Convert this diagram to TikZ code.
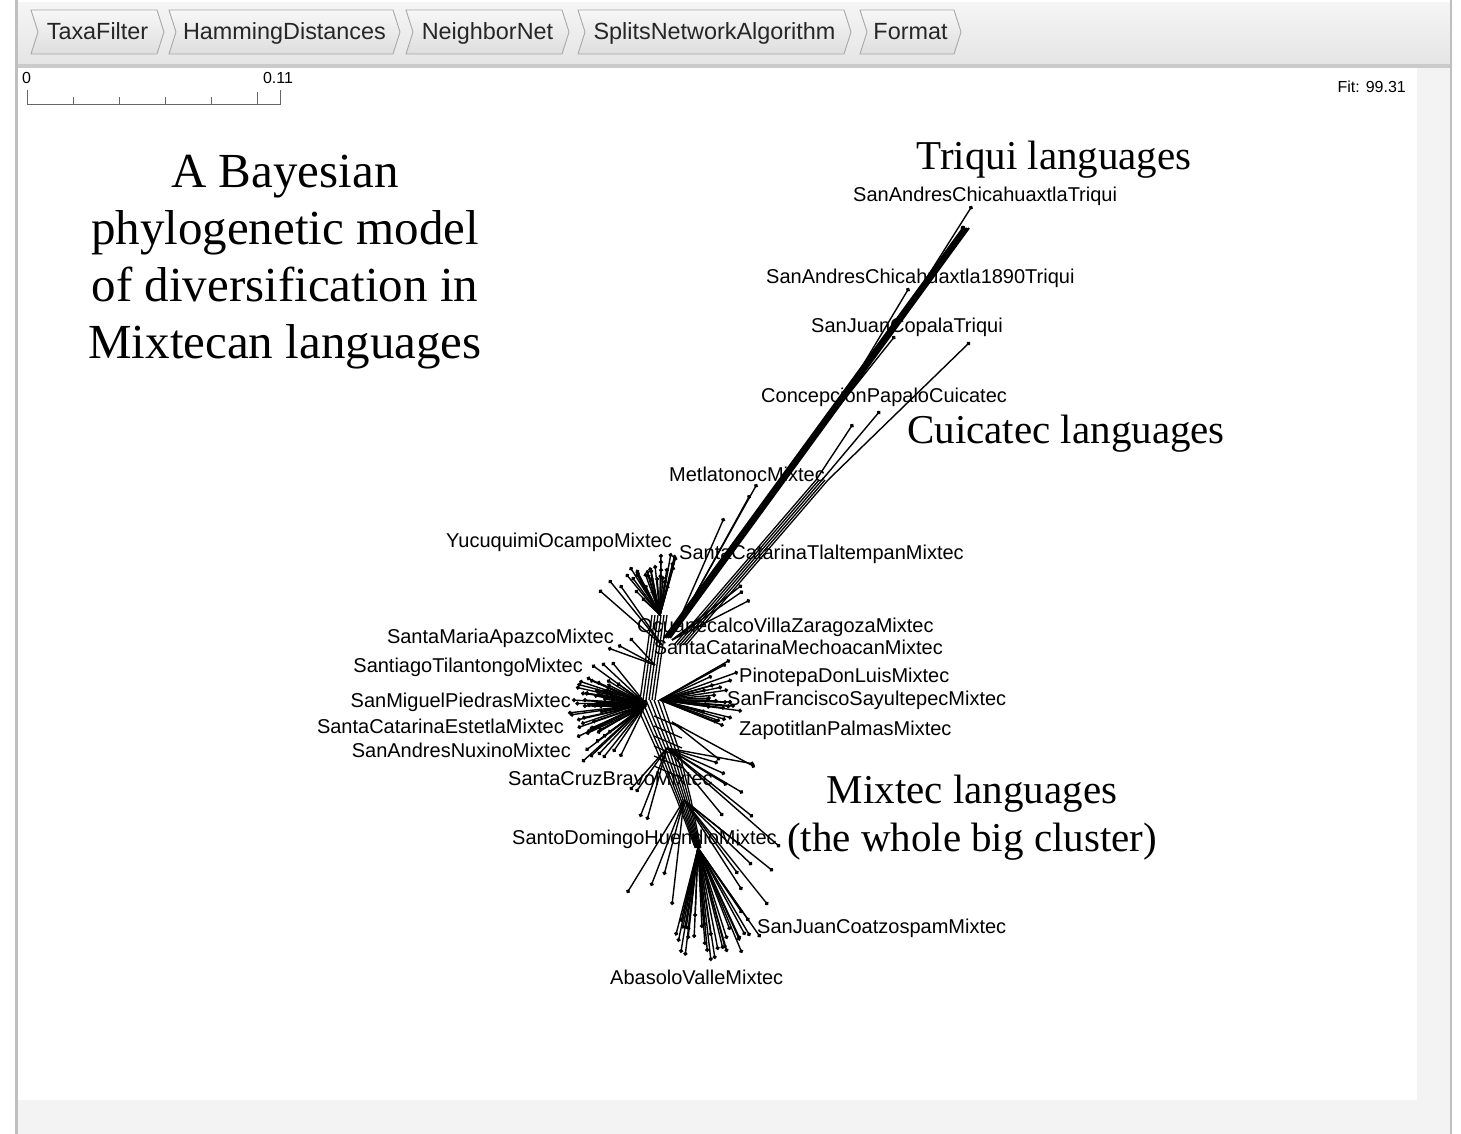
\documentclass[tikz,border=0pt]{standalone}
\usepackage{fontspec}
\setmainfont{Liberation Serif}
\setsansfont{Liberation Sans}
\usetikzlibrary{arrows.meta}

\definecolor{barhi}{HTML}{F5F5F5}
\definecolor{barlo}{HTML}{E5E5E5}
\definecolor{barrule}{HTML}{CACACA}
\definecolor{tabedge}{HTML}{A8A8A8}
\definecolor{panel}{HTML}{F3F3F3}
\definecolor{frame}{HTML}{BFBFBF}

\tikzset{
  tabtext/.style={font=\sffamily\fontsize{23.4}{25}\selectfont, text=black!85, inner sep=0pt, anchor=base},
  taxon/.style={font=\sffamily\fontsize{20}{22}\selectfont, inner sep=0pt, anchor=base west},
  group/.style={font=\fontsize{41}{48}\selectfont, inner sep=0pt, align=center},
  smalltext/.style={font=\sffamily\fontsize{16}{18}\selectfont, inner sep=0pt},
  scalebar/.style={black!60, line width=0.9pt},
  leaf/.style={line width=1.4pt, -{Circle[length=4pt]}},
  splitedge/.style={line width=1.3pt},
  trunk/.style={line width=2pt},
}

% one step of the method chain in the toolbar: name, left, right, text
\newcommand\methodtab[4]{%
  \path[draw=tabedge, line width=0.9pt, top color=white!97!black, bottom color=black!13]
    (#2,10) -- (#3-7,10) -- (#3,32) -- (#3-7,54) -- (#2,54) -- (#2+7,32) -- cycle;
  \node[tabtext] (#1) at ({(#2+#3)/2},40) {#4};
}

\begin{document}
\begin{tikzpicture}[x=1pt,y=-1pt]
\useasboundingbox (0,0) rectangle (1461,1134);

% window
\fill[top color=barhi, bottom color=barlo] (15,3) rectangle (1452,64);
\fill[barrule] (15,64) rectangle (1452,68);
\fill[panel] (17,68) rectangle (1450,1134);
\fill[white] (17,68) rectangle (1417,1100);
\fill[frame] (15,0) rectangle (17.5,1134);
\fill[frame] (1449.5,0) rectangle (1452,1134);

\methodtab{taxa}{31}{164}{TaxaFilter}
\methodtab{hamming}{169}{400}{HammingDistances}
\methodtab{nnet}{406}{569}{NeighborNet}
\methodtab{splits}{578}{851}{SplitsNetworkAlgorithm}
\methodtab{format}{860}{961}{Format}

% scale bar and fit
\draw[scalebar] (27,90) -- (27,104) -- (280,104) -- (280,90);
\foreach \x in {73,119,165,211} \draw[scalebar] (\x,104) -- (\x,97);
\draw[scalebar] (257,104) -- (257,92);
\node[smalltext, anchor=base west] (zero) at (22,84) {0};
\node[smalltext, anchor=base] (scalemax) at (278,84) {0.11};
\node[smalltext, anchor=base east] (fit) at (1406,93) {Fit: 99.31};

% network
\coordinate (hub) at (648,700);
\coordinate (hubL) at (646,704);
\coordinate (hubR) at (660,700);
\coordinate (up) at (660,615);
\coordinate (dnA) at (667,748);
\coordinate (dnB) at (684,800);
\coordinate (dnC) at (698,848);
\coordinate (tqA) at (664,638);
\coordinate (tqB) at (963,228);
\coordinate (tqC) at (919,290);
\coordinate (tqD) at (848,390);
\coordinate (tqE) at (812,440);
\coordinate (cuA) at (674,645);
\coordinate (cuB) at (816,480);

% trunks
\foreach \d in {-8,-5,-2,1,4,7}
  \draw[splitedge] ([xshift=\d]hub) -- ([xshift=\d]up);
\foreach \d in {-14,-10,-6,-2,2,6,10,14}
  \draw[splitedge] ([xshift=\d]hub) -- ([xshift={0.8*\d}]dnA)
    -- ([xshift={0.5*\d}]dnB) -- ([xshift={0.2*\d}]dnC);
\foreach \y in {716,726,736,746,756,766}
  \draw[splitedge] (654,\y) -- (682,\y+12);

% Triqui and Cuicatec
\foreach \d in {0,2,4,6}
  \draw[trunk] ([xshift=\d]tqA) -- ([xshift=\d]tqB);
\fill (tqB) circle (2.4);
\draw[leaf] (tqC) -- (972,206);
\draw[leaf] (tqD) -- (909,288);
\draw[leaf] (tqE) -- (895,336);
\foreach \d in {0,3,6,9,12}
  \draw[splitedge] ([xshift=\d]cuA) -- ([xshift=\d]cuB);
\draw[leaf] ([xshift=12]cuB) -- (970,342);
\draw[leaf] ([xshift=6]cuB) -- (880,411);
\draw[leaf] (cuB) -- (853,424);

% Metlatonoc and neighbours
\draw[leaf] (681,620) -- (757,484);
\draw[leaf] (684,615) -- (750,495);
\draw[leaf] (677,625) -- (724,518);
\foreach \x/\y in {742/585,743/591,750/600}
  \draw[leaf] (672,640) -- (\x,\y);

% fans
\foreach \x/\y in {630/567,632/577,640/580,651/577,657/577,663/576,665/580,
    671/553,673/562,637/572,645/585,668/585,642/598,652/590,661/560,
    626/574,647/570,655/565,667/568,635/590}
  \draw[leaf] (up) -- (\x,\y);
\foreach \x/\y in {599/590,609/580,620/585}
  \draw[leaf] (662,645) -- (\x,\y);
\foreach \x/\y in {630/638,608/648,618/645}
  \draw[leaf] (655,665) -- (\x,\y);
\foreach \x/\y in {592/665,602/663,612/662,590/680,597/682,607/680,617/683,
    572/700,583/700,587/705,568/713,570/715,577/720,582/718,577/737,587/732,
    597/733,603/737,582/762,590/757,598/755,603/758,613/752,620/757,
    595/690,585/693,600/712,592/722}
  \draw[leaf] (hubL) -- (\x,\y);
\foreach \x/\y in {730/660,732/680,722/687,732/702,742/711,732/718,720/721,
    717/722,726/664,712/676,706/690,716/695,725/708,738/672,705/712,
    728/690,735/706}
  \draw[leaf] (hubR) -- (\x,\y);
\foreach \x/\y in {755/767,720/760}
  \draw[leaf] (672,722) -- (\x,\y);
\foreach \x/\y in {754/764,718/763,725/774,727/785,743/793,753/817,723/816,
    780/847,636/792,640/817,647/820,630/790}
  \draw[leaf] (dnA) -- (\x,\y);
\foreach \x/\y in {627/893,651/886,664/875,672/905,773/871,752/865,742/890,
    738/874,768/905,740/845}
  \draw[leaf] (dnB) -- (\x,\y);
\foreach \x/\y in {681/922,686/929,688/939,695/917,702/928,711/961,715/959,
    718/950,723/949,727/939,742/953,740/939,750/936,749/921,705/945,730/930}
  \draw[leaf] (dnC) -- (\x,\y);

% denser tufts
\pgfmathsetseed{42}
\foreach \i in {1,...,30}{
  \pgfmathsetmacro\ang{152+66*rnd}
  \pgfmathsetmacro\len{42+34*rnd}
  \draw[leaf] ([yshift={6*rnd-3}]hubL) -- ++(\ang:\len pt);
}
\foreach \i in {1,...,12}{
  \pgfmathsetmacro\ang{70+50*rnd}
  \pgfmathsetmacro\len{35+30*rnd}
  \draw[leaf] (up) -- ++(\ang:\len pt);
}
\foreach \i in {1,...,10}{
  \pgfmathsetmacro\ang{-25+45*rnd}
  \pgfmathsetmacro\len{45+30*rnd}
  \draw[leaf] (hubR) -- ++(\ang:\len pt);
}
\foreach \i in {1,...,16}{
  \pgfmathsetmacro\ang{255+50*rnd}
  \pgfmathsetmacro\len{75+35*rnd}
  \draw[leaf] (dnC) -- ++(\ang:\len pt);
}

% taxa
\node[taxon] (sact) at (853,201.5) {SanAndresChicahuaxtlaTriqui};
\node[taxon] (sact90) at (766,283.5) {SanAndresChicahuaxtla1890Triqui};
\node[taxon] (sjct) at (811,332.5) {SanJuanCopalaTriqui};
\node[taxon] (cpc) at (761,402.5) {ConcepcionPapaloCuicatec};
\node[taxon] (metl) at (669,481.5) {MetlatonocMixtec};
\node[taxon, anchor=base east] (yuco) at (672,547.5) {YucuquimiOcampoMixtec};
\node[taxon] (sctl) at (679,559.5) {SantaCatarinaTlaltempanMixtec};
\node[taxon] (ocvz) at (637,632.5) {OcuanecalcoVillaZaragozaMixtec};
\node[taxon, anchor=base east] (scme) at (943,654.5) {SantaCatarinaMechoacanMixtec};
\node[taxon] (pdl) at (739,682.5) {PinotepaDonLuisMixtec};
\node[taxon] (sfsa) at (727,705.5) {SanFranciscoSayultepecMixtec};
\node[taxon] (zapa) at (739,735.5) {ZapotitlanPalmasMixtec};
\node[taxon, anchor=base east] (smap) at (614,643.5) {SantaMariaApazcoMixtec};
\node[taxon, anchor=base east] (stil) at (583,672.5) {SantiagoTilantongoMixtec};
\node[taxon, anchor=base east] (smpi) at (571,707.5) {SanMiguelPiedrasMixtec};
\node[taxon, anchor=base east] (scest) at (564,733.5) {SantaCatarinaEstetlaMixtec};
\node[taxon, anchor=base east] (sanu) at (571,757.5) {SanAndresNuxinoMixtec};
\node[taxon] (scbr) at (508,785.5) {SantaCruzBravoMixtec};
\node[taxon] (sdhu) at (512,844.5) {SantoDomingoHuendioMixtec};
\node[taxon] (sjco) at (757,933.5) {SanJuanCoatzospamMixtec};
\node[taxon] (abva) at (610,984.5) {AbasoloValleMixtec};

% notes
\node[group, font=\fontsize{49}{57}\selectfont, anchor=north] (title) at (285,155)
  {A Bayesian\\phylogenetic model\\of diversification in\\Mixtecan languages};
\node[group, anchor=base] (triqui) at (1054,170) {Triqui languages};
\node[group, anchor=base] (cuicatec) at (1066,443) {Cuicatec languages};
\node[group, anchor=north] (mixtec) at (972,775) {Mixtec languages\\(the whole big cluster)};
\end{tikzpicture}
\end{document}
